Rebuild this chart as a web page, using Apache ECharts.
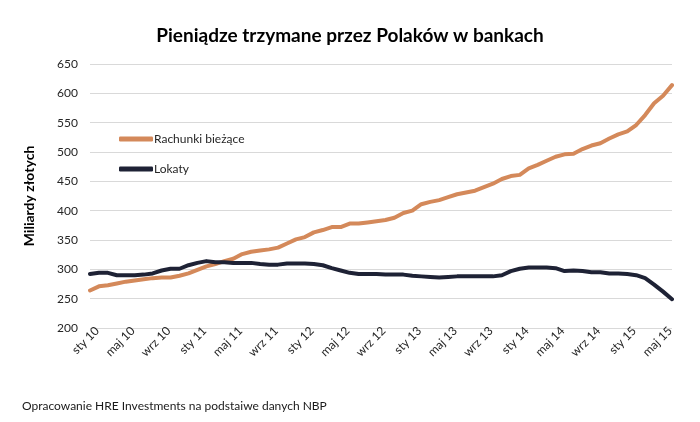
<!DOCTYPE html>
<html>
<head>
<meta charset="utf-8">
<script src="https://cdn.jsdelivr.net/npm/echarts@6/dist/echarts.min.js"></script>
<style>html,body{margin:0;padding:0;background:#fff}#c{width:700px;height:422px}</style>
</head>
<body>
<div id="c"></div>
<script>
const categories = [
 'sty 10','lut 10','mar 10','kwi 10','maj 10','cze 10','lip 10','sie 10','wrz 10','paź 10','lis 10','gru 10',
 'sty 11','lut 11','mar 11','kwi 11','maj 11','cze 11','lip 11','sie 11','wrz 11','paź 11','lis 11','gru 11',
 'sty 12','lut 12','mar 12','kwi 12','maj 12','cze 12','lip 12','sie 12','wrz 12','paź 12','lis 12','gru 12',
 'sty 13','lut 13','mar 13','kwi 13','maj 13','cze 13','lip 13','sie 13','wrz 13','paź 13','lis 13','gru 13',
 'sty 14','lut 14','mar 14','kwi 14','maj 14','cze 14','lip 14','sie 14','wrz 14','paź 14','lis 14','gru 14',
 'sty 15','lut 15','mar 15','kwi 15','maj 15','cze 15'
];
const rachunkiBiezace = [
 264,271,273,276,279,281,283,285,286,286,289,293,
 299,305,309,314,318,326,330,332,334,337,344,351,
 355,363,367,372,372,378,378,380,382,384,388,396,
 400,411,415,418,423,428,431,434,440,446,454,459,
 461,472,478,485,492,496,497,505,511,515,523,530,
 535,546,563,583,596,614
];
const lokaty = [
 292,294,294,290,290,290,291,293,298,301,301,307,
 311,314,312,312,311,311,311,309,308,308,310,310,
 310,309,307,302,298,294,292,292,292,291,291,291,
 289,288,287,286,287,288,288,288,288,288,290,297,
 301,303,303,303,302,297,298,297,295,295,293,293,
 292,290,285,274,262,249
];
const yTicks = {min: 200, max: 650, interval: 50};
const seriesNames = ['Rachunki bieżące', 'Lokaty'];
const colors = ['#D4895A', '#1E2235'];
const FONT = 'Lato, "Open Sans", sans-serif';

const chart = echarts.init(document.getElementById('c'));
chart.setOption({
  animation: false,
  backgroundColor: '#fff',
  title: {
    text: 'Pieniądze trzymane przez Polaków w bankach',
    left: 'center', top: 21,
    textStyle: {fontFamily: FONT, fontSize: 19, fontWeight: 'bold', color: '#000'}
  },
  graphic: [{
    type: 'text', left: 22, top: 400,
    style: {text: 'Opracowanie HRE Investments na podstaiwe danych NBP', fontFamily: FONT, fontSize: 12, fill: '#1a1a1a'}
  }],
  legend: {
    orient: 'vertical', left: 114, top: 128, itemGap: 18,
    icon: 'roundRect', itemWidth: 34, itemHeight: 5,
    textStyle: {fontFamily: FONT, fontSize: 12, color: '#262626', padding: [0,0,0,-4]},
    data: seriesNames
  },
  grid: {left: 90, right: 28, top: 64, bottom: 94},
  xAxis: {
    type: 'category', data: categories, boundaryGap: false,
    axisLine: {show: false}, axisTick: {show: false},
    axisLabel: {interval: 3, rotate: 45, fontFamily: FONT, fontSize: 12, color: '#262626', margin: 8, padding: [0, -10, 0, 0]}
  },
  yAxis: {
    type: 'value', min: yTicks.min, max: yTicks.max, interval: yTicks.interval,
    name: 'Miliardy złotych', nameLocation: 'middle', nameGap: 54, nameRotate: 90,
    nameTextStyle: {fontFamily: FONT, fontSize: 14, fontWeight: 'bold', color: '#000'},
    axisLine: {show: false}, axisTick: {show: false},
    axisLabel: {fontFamily: FONT, fontSize: 12, color: '#262626', margin: 12},
    splitLine: {lineStyle: {color: '#d9d9d9', width: 1}}
  },
  series: [
    {name: seriesNames[0], type: 'line', data: rachunkiBiezace, showSymbol: false, symbol: 'none',
     lineStyle: {color: colors[0], width: 4, cap: 'round', join: 'round'}, itemStyle: {color: colors[0]}},
    {name: seriesNames[1], type: 'line', data: lokaty, showSymbol: false, symbol: 'none',
     lineStyle: {color: colors[1], width: 4, cap: 'round', join: 'round'}, itemStyle: {color: colors[1]}}
  ]
});
</script>
</body>
</html>
